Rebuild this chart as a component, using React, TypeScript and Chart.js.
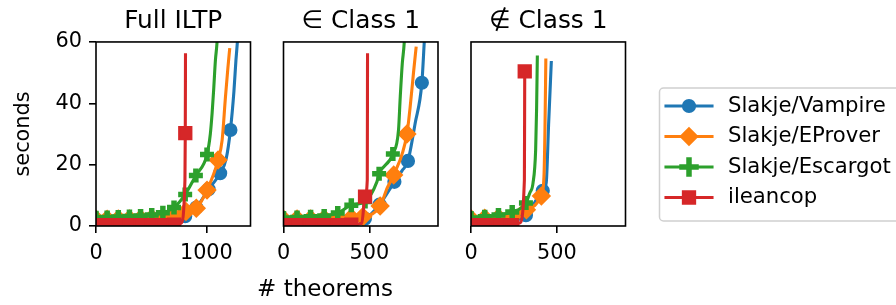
import React, { useEffect, useRef } from 'react';
import { Chart, registerables } from 'chart.js';

Chart.register(...registerables);

type Pt = [number, number];

// ---------------- data ----------------
const seriesNames = ['Slakje/Vampire', 'Slakje/EProver', 'Slakje/Escargot', 'ileancop'];
const panelTitles = ['Full ILTP', '∈ Class 1', '∉ Class 1'];
const panelXMax = [1400, 900, 900];
const panelXTicks = [[0, 1000], [0, 500], [0, 500]];
const yTicks = [0, 20, 40, 60];
const yMax = 60;
const xAxisLabel = '# theorems';
const yAxisLabel = 'seconds';

// Full ILTP
const fullVampireMarks: Pt[] = [[0, 1.2], [101, 1.3], [202, 1.4], [303, 1.5], [404, 1.6], [505, 1.7], [606, 1.9], [707, 2.2], [808, 3.2], [909, 6], [1020, 12], [1125, 17.2], [1218, 31.3]];
const fullVampireCurve: Pt[] = [[1070, 14.3], [1180, 22], [1250, 44], [1268, 54], [1282, 60.5], [1290, 66]];
const fullEproverMarks: Pt[] = [[0, 2.2], [101, 2.2], [202, 2.3], [303, 2.3], [404, 2.4], [505, 2.5], [606, 2.6], [707, 3], [815, 4.7], [909, 5.8], [1006, 11.7], [1106, 21.5]];
const fullEproverCurve: Pt[] = [[1143, 28], [1173, 42], [1195, 51.5], [1212, 58]];
const fullEscargotMarks: Pt[] = [[0, 2.7], [101, 2.8], [202, 2.9], [303, 3.1], [404, 3.3], [505, 3.6], [606, 4.3], [707, 6], [808, 10.3], [905, 16.5], [1006, 23.3]];
const fullEscargotCurve: Pt[] = [[1036, 30], [1052, 36.7], [1066, 44.3], [1082, 54], [1097, 60], [1105, 66]];
const fullIleancopMarks: Pt[] = [[0, 0.3], [101, 0.3], [202, 0.3], [303, 0.3], [404, 0.3], [505, 0.3], [606, 0.3], [707, 0.4], [809, 30.3]];
const fullIleancopCurve: Pt[] = [[770, 0.9], [806, 15], [811, 56.3]];

// ∈ Class 1
const inVampireMarks: Pt[] = [[0, 1.2], [79, 1.3], [158, 1.4], [237, 1.5], [316, 1.6], [395, 1.8], [474, 2.4], [560, 7], [646, 14.4], [725, 21.2], [806, 46.7]];
const inVampireCurve: Pt[] = [[690, 18], [767, 33.5], [820, 60], [826, 66]];
const inEproverMarks: Pt[] = [[0, 2.2], [79, 2.3], [158, 2.3], [237, 2.4], [316, 2.5], [395, 2.7], [462, 3], [563, 6.5], [642, 16.6], [719, 30]];
const inEproverCurve: Pt[] = [[605, 12.5], [738, 38.9], [757, 49.8], [773, 58.5]];
const inEscargotMarks: Pt[] = [[0, 2.6], [79, 2.8], [158, 3], [237, 3.3], [316, 4.2], [395, 6.8], [475, 8], [557, 17], [637, 23.5]];
const inEscargotCurve: Pt[] = [[544, 14.4], [670, 31.3], [680, 42], [692, 53], [703, 59.6], [708, 66]];
const inIleancopMarks: Pt[] = [[0, 0.3], [79, 0.3], [158, 0.3], [237, 0.3], [316, 0.3], [395, 0.4], [475, 9.6]];
const inIleancopCurve: Pt[] = [[456, 0.9], [488, 15], [489.5, 56.3]];

// ∉ Class 1
const outVampireMarks: Pt[] = [[0, 1.2], [80, 1.3], [160, 1.5], [240, 1.8], [320, 3.5], [418, 11.5]];
const outVampireCurve: Pt[] = [[438, 14], [452, 33], [468, 53.8]];
const outEproverMarks: Pt[] = [[0, 2.4], [80, 2.5], [160, 2.7], [240, 3], [323, 5.3], [410, 9.8]];
const outEproverCurve: Pt[] = [[425, 16], [431, 32], [436, 54.6]];
const outEscargotMarks: Pt[] = [[0, 2.6], [80, 3], [160, 3.6], [240, 4.6], [320, 7.5]];
const outEscargotCurve: Pt[] = [[342, 10.7], [361, 13.9], [376.6, 24.8], [382, 38], [386.5, 55.6]];
const outIleancopMarks: Pt[] = [[0, 0.3], [80, 0.3], [160, 0.3], [240, 0.3], [313, 50.4]];
const outIleancopCurve: Pt[] = [[284, 1], [311, 15]];

const panelSeries: [Pt[], Pt[]][][] = [
  [[fullVampireMarks, fullVampireCurve], [fullEproverMarks, fullEproverCurve], [fullEscargotMarks, fullEscargotCurve], [fullIleancopMarks, fullIleancopCurve]],
  [[inVampireMarks, inVampireCurve], [inEproverMarks, inEproverCurve], [inEscargotMarks, inEscargotCurve], [inIleancopMarks, inIleancopCurve]],
  [[outVampireMarks, outVampireCurve], [outEproverMarks, outEproverCurve], [outEscargotMarks, outEscargotCurve], [outIleancopMarks, outIleancopCurve]],
];

// ---------------- style / layout ----------------
const W = 896;
const H = 305;
const FONT = '"DejaVu Sans", "Liberation Sans", sans-serif';
const seriesColors = ['#1f77b4', '#ff7f0e', '#2ca02c', '#d62728'];
const markerStyles = [
  { style: 'circle', radius: 6.1, border: 2 },
  { style: 'rectRot', radius: 8.3, border: 2 },
  { style: 'cross', radius: 7, border: 5.5 },
  { style: 'rect', radius: 8.7, border: 2 },
];
const panelBoxes = [
  { left: 96, right: 250.5 },
  { left: 283.5, right: 438 },
  { left: 471, right: 625.5 },
];
const plotBottom = 226;
const TICK_FONT = 20.8;
const TITLE_FONT = 24.8;
const LABEL_FONT = 23;
const LEGEND_FONT = 21.2;

const legendBox = { left: 659.5, top: 88, width: 270, height: 133, rows: [106, 136.5, 167, 197.5], h0: 666, h1: 712, textX: 728 };

function buildData(marks: Pt[], curve: Pt[]) {
  const pts = [
    ...marks.map(([x, y]) => ({ x, y, m: 1 })),
    ...curve.map(([x, y]) => ({ x, y, m: 0 })),
  ];
  pts.sort((a, b) => a.x - b.x);
  return pts;
}

function drawMarker(ctx: CanvasRenderingContext2D, style: string, x: number, y: number, r: number, bw: number, color: string) {
  ctx.save();
  ctx.fillStyle = color;
  ctx.strokeStyle = color;
  ctx.lineWidth = bw;
  ctx.beginPath();
  if (style === 'circle') {
    ctx.arc(x, y, r, 0, Math.PI * 2);
    ctx.fill();
    ctx.stroke();
  } else if (style === 'rectRot') {
    ctx.moveTo(x - r, y);
    ctx.lineTo(x, y - r);
    ctx.lineTo(x + r, y);
    ctx.lineTo(x, y + r);
    ctx.closePath();
    ctx.fill();
    ctx.stroke();
  } else if (style === 'rect') {
    const s = r * Math.SQRT1_2;
    ctx.rect(x - s, y - s, 2 * s, 2 * s);
    ctx.fill();
    ctx.stroke();
  } else {
    ctx.moveTo(x - r, y);
    ctx.lineTo(x + r, y);
    ctx.moveTo(x, y - r);
    ctx.lineTo(x, y + r);
    ctx.stroke();
  }
  ctx.restore();
}

const framePlugin = {
  id: 'frame',
  afterDatasetsDraw(chart: any) {
    const { ctx, chartArea } = chart;
    ctx.save();
    ctx.strokeStyle = '#000';
    ctx.lineWidth = 1.6;
    ctx.strokeRect(chartArea.left, chartArea.top, chartArea.right - chartArea.left, chartArea.bottom - chartArea.top);
    ctx.restore();
  },
};

const xLabelPlugin = {
  id: 'xlabel',
  afterDraw(chart: any) {
    const ctx = chart.ctx as CanvasRenderingContext2D;
    ctx.save();
    ctx.font = `${LABEL_FONT}px ${FONT}`;
    ctx.fillStyle = '#000';
    ctx.textAlign = 'center';
    ctx.textBaseline = 'alphabetic';
    ctx.fillText(xAxisLabel, 325, 296);
    ctx.restore();
  },
};

const legendPlugin = {
  id: 'customLegend',
  afterDraw(chart: any) {
    const ctx = chart.ctx as CanvasRenderingContext2D;
    const lb = legendBox;
    ctx.save();
    ctx.beginPath();
    const rr = 4;
    const x0 = lb.left, y0 = lb.top, x1 = lb.left + lb.width, y1 = lb.top + lb.height;
    ctx.moveTo(x0 + rr, y0);
    ctx.lineTo(x1 - rr, y0);
    ctx.arcTo(x1, y0, x1, y0 + rr, rr);
    ctx.lineTo(x1, y1 - rr);
    ctx.arcTo(x1, y1, x1 - rr, y1, rr);
    ctx.lineTo(x0 + rr, y1);
    ctx.arcTo(x0, y1, x0, y1 - rr, rr);
    ctx.lineTo(x0, y0 + rr);
    ctx.arcTo(x0, y0, x0 + rr, y0, rr);
    ctx.closePath();
    ctx.fillStyle = 'rgba(255,255,255,0.8)';
    ctx.fill();
    ctx.strokeStyle = '#d0d0d0';
    ctx.lineWidth = 1.5;
    ctx.stroke();
    seriesNames.forEach((name, i) => {
      const y = lb.rows[i];
      ctx.beginPath();
      ctx.strokeStyle = seriesColors[i];
      ctx.lineWidth = 3.1;
      ctx.lineCap = 'square';
      ctx.moveTo(lb.h0, y);
      ctx.lineTo(lb.h1, y);
      ctx.stroke();
      const ms = markerStyles[i];
      drawMarker(ctx, ms.style, (lb.h0 + lb.h1) / 2, y, ms.radius, ms.border, seriesColors[i]);
      ctx.font = `${LEGEND_FONT}px ${FONT}`;
      ctx.fillStyle = '#000';
      ctx.textAlign = 'left';
      ctx.textBaseline = 'middle';
      ctx.fillText(name, lb.textX, y);
    });
    ctx.restore();
  },
};

function makeConfig(p: number): any {
  const box = panelBoxes[p];
  const isFirst = p === 0;
  const datasets = seriesNames.map((name, i) => {
    const [marks, curve] = panelSeries[p][i];
    const ms = markerStyles[i];
    return {
      label: name,
      data: buildData(marks, curve),
      borderColor: seriesColors[i],
      backgroundColor: seriesColors[i],
      borderWidth: 3.1,
      borderJoinStyle: 'round',
      cubicInterpolationMode: 'monotone',
      pointStyle: ms.style,
      pointRadius: (c: any) => (c.raw && c.raw.m ? ms.radius : 0),
      pointHoverRadius: (c: any) => (c.raw && c.raw.m ? ms.radius : 0),
      pointBorderWidth: ms.border,
      pointBackgroundColor: seriesColors[i],
      pointBorderColor: seriesColors[i],
      clip: 0,
      order: seriesNames.length - 1 - i,
    };
  });
  const tickFont = { family: FONT, size: TICK_FONT };
  const gridOpts = { drawOnChartArea: false, drawTicks: true, tickLength: 7, color: '#000', lineWidth: 1.6 };
  const plugins: any[] = [framePlugin];
  if (p === 1) plugins.push(xLabelPlugin);
  if (p === 2) plugins.push(legendPlugin);
  return {
    type: 'line',
    data: { datasets },
    plugins,
    options: {
      responsive: false,
      maintainAspectRatio: false,
      animation: false,
      devicePixelRatio: 1,
      events: [],
      layout: { padding: { left: isFirst ? 0 : box.left, right: W - box.right, top: 0, bottom: 0 } },
      plugins: {
        legend: { display: false },
        tooltip: { enabled: false },
        title: {
          display: true,
          text: panelTitles[p],
          color: '#000',
          fullSize: false,
          font: { family: FONT, size: TITLE_FONT, weight: 'normal' },
          padding: { top: 6.4, bottom: 5.8 },
        },
      },
      scales: {
        x: {
          type: 'linear',
          position: 'bottom',
          min: 0,
          max: panelXMax[p],
          afterBuildTicks: (s: any) => { s.ticks = panelXTicks[p].map((v) => ({ value: v })); },
          afterFit: (s: any) => { s.height = H - plotBottom; },
          ticks: { color: '#000', font: tickFont, padding: 8, maxRotation: 0, autoSkip: false, callback: (v: any) => String(v) },
          grid: gridOpts,
          border: { display: false },
        },
        y: {
          type: 'linear',
          display: isFirst,
          min: 0,
          max: yMax,
          afterBuildTicks: (s: any) => { s.ticks = yTicks.map((v) => ({ value: v })); },
          afterFit: (s: any) => { s.width = isFirst ? box.left : 0; },
          ticks: { color: '#000', font: tickFont, padding: 7, autoSkip: false, callback: (v: any) => String(v) },
          grid: gridOpts,
          border: { display: false },
          title: { display: true, text: yAxisLabel, color: '#000', font: tickFont, padding: { top: 11.5, bottom: 0 } },
        },
      },
    },
  };
}

export default function App() {
  const r0 = useRef<HTMLCanvasElement>(null);
  const r1 = useRef<HTMLCanvasElement>(null);
  const r2 = useRef<HTMLCanvasElement>(null);
  const refs = [r0, r1, r2];
  useEffect(() => {
    const charts = refs.map((r, p) => new Chart(r.current as HTMLCanvasElement, makeConfig(p)));
    return () => charts.forEach((c) => c.destroy());
  }, []);
  return (
    <div style={{ position: 'absolute', left: 0, top: 0, width: W, height: H, background: '#fff', overflow: 'hidden' }}>
      {refs.map((r, p) => (
        <canvas key={p} ref={r} width={W} height={H} style={{ position: 'absolute', left: 0, top: 0, width: W, height: H }} />
      ))}
    </div>
  );
}
